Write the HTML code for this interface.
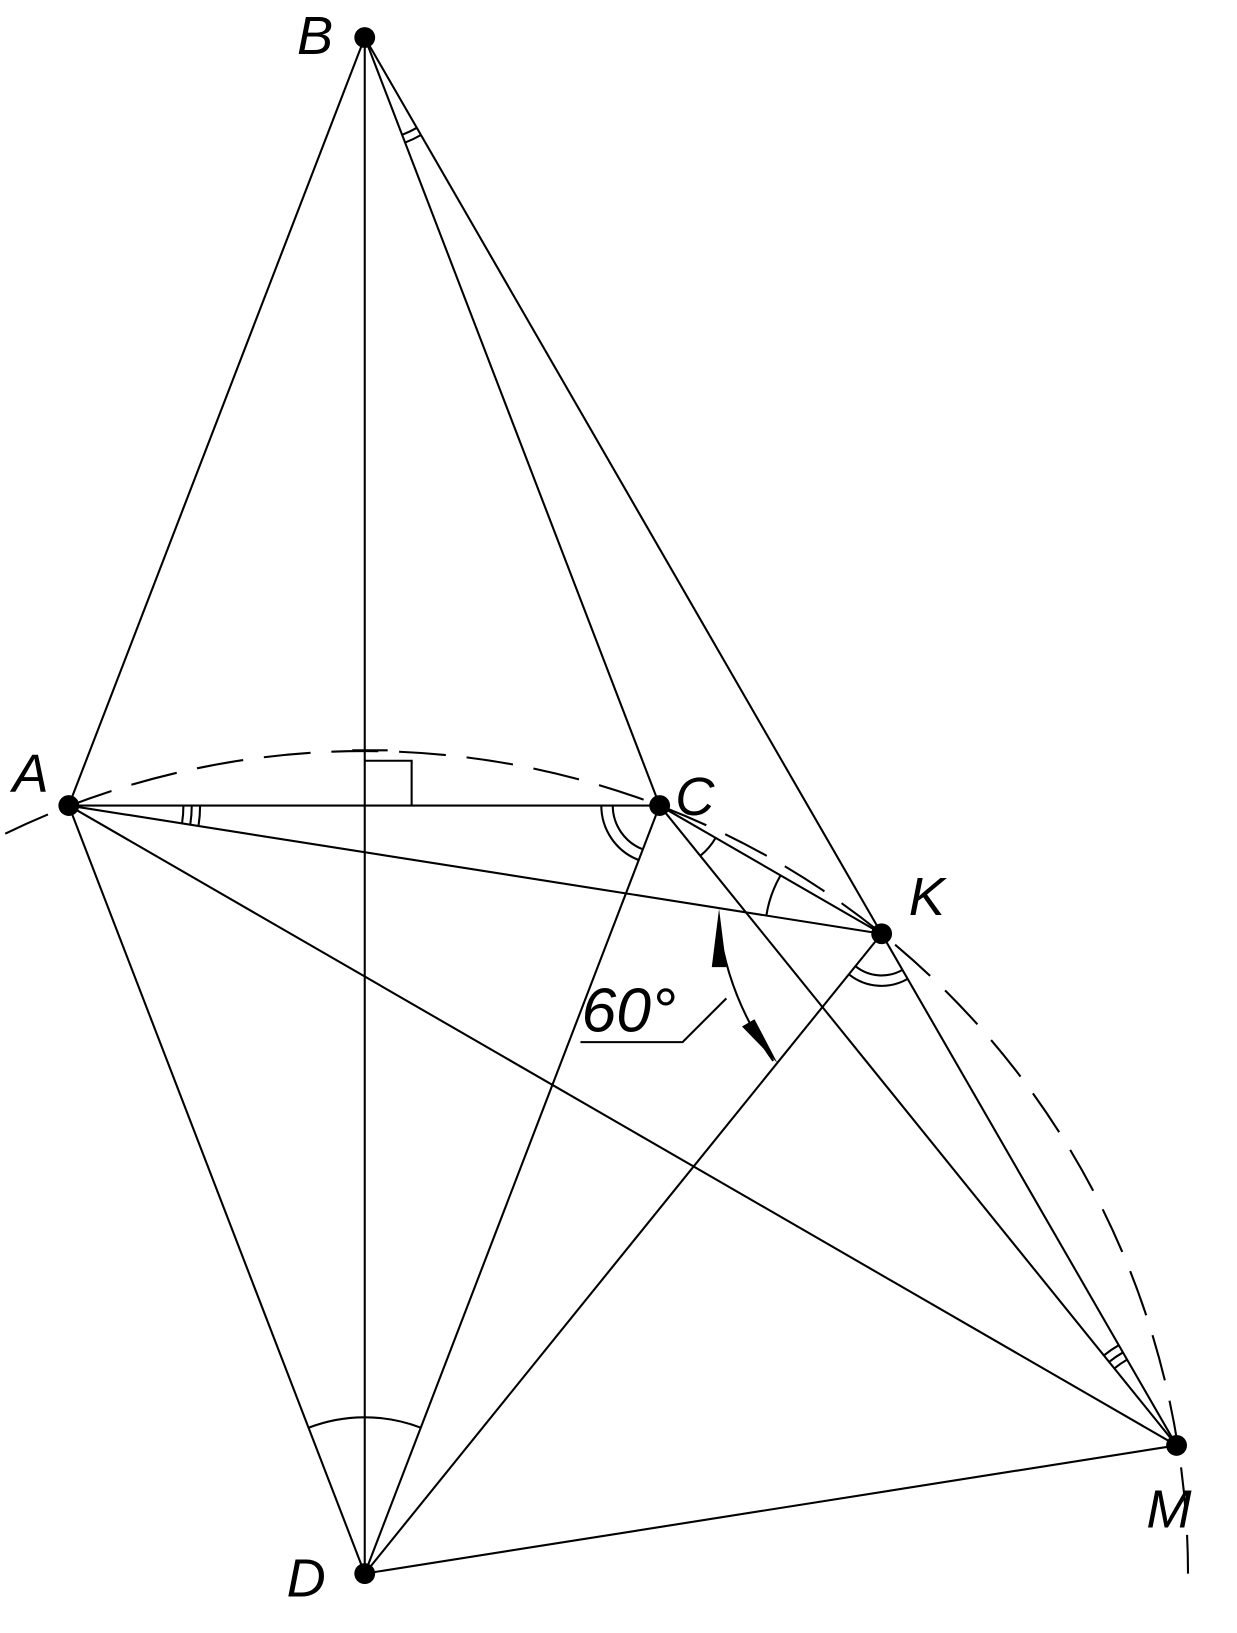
<!DOCTYPE html>
<html><head><meta charset="utf-8"><style>
html,body{margin:0;padding:0;background:#fff;width:1237px;height:1633px;overflow:hidden}
svg{display:block}
text{font-family:"Liberation Sans",sans-serif;font-style:italic;font-size:52px;fill:#000}
</style></head><body>
<svg id="s" width="1237" height="1633" viewBox="0 0 1187 1567" xmlns="http://www.w3.org/2000/svg">
<g stroke="#000" stroke-width="2" fill="none" id="g">
<path d="M5,800 A790,790 0 0 1 1140,1510" stroke-dasharray="45,20"/>
<polyline points="350,730 395,730 395,773"/>
<line x1="338" y1="720" x2="372" y2="720"/>
<polyline points="557,1000 655,1000 697,958"/>
<path d="M690,890 Q700,960 742,1018"/>
</g>
<polygon points="690,872 683,928 697,928" fill="#000"/>
<polygon points="746,1020 712,985 724,978" fill="#000"/>
<text x="285" y="52">B</text>
<text x="12" y="760">A</text>
<text x="648" y="782">C</text>
<text x="872" y="878">K</text>
<text x="275" y="1532">D</text>
<text x="1100" y="1466">M</text>
<text x="558" y="990" style="font-size:60px">60°</text>
</svg>
<script>
var P={B:[350,36],A:[66,773],C:[633,773],K:[846,896],D:[350,1510],M:[1129,1387]};
var g=document.getElementById('g'),s=document.getElementById('s');
function L(a,b){var l=document.createElementNS('http://www.w3.org/2000/svg','line');l.setAttribute('x1',P[a][0]);l.setAttribute('y1',P[a][1]);l.setAttribute('x2',P[b][0]);l.setAttribute('y2',P[b][1]);g.appendChild(l);}
['AB','BD','BC','BK','AC','AK','AM','AD','CD','CK','CM','KD','KM','DM'].forEach(function(e){L(e[0],e[1]);});
function ang(a,b){return Math.atan2(P[b][1]-P[a][1],P[b][0]-P[a][0]);}
function arc(v,p,q,r){var c=P[v],a1=ang(v,p),a2=ang(v,q);var d=a2-a1;while(d>Math.PI)d-=2*Math.PI;while(d<-Math.PI)d+=2*Math.PI;
var x1=c[0]+r*Math.cos(a1),y1=c[1]+r*Math.sin(a1),x2=c[0]+r*Math.cos(a1+d),y2=c[1]+r*Math.sin(a1+d);
var e=document.createElementNS('http://www.w3.org/2000/svg','path');e.setAttribute('d','M'+x1+','+y1+' A'+r+','+r+' 0 0 '+(d>0?1:0)+' '+x2+','+y2);g.appendChild(e);}
arc('A','C','K',110);arc('A','C','K',118);arc('A','C','K',126);
arc('B','C','K',100);arc('B','C','K',108);
arc('C','A','D',45);arc('C','A','D',56);
arc('C','K','M',62);
arc('K','C','A',112);
arc('K','D','M',40);arc('K','D','M',50);
arc('M','C','K',95);arc('M','C','K',103);arc('M','C','K',111);
arc('D','A','B',150);arc('D','B','C',150);
for(var k in P){var c=document.createElementNS('http://www.w3.org/2000/svg','circle');c.setAttribute('cx',P[k][0]);c.setAttribute('cy',P[k][1]);c.setAttribute('r',10);c.setAttribute('fill','#000');s.appendChild(c);}
</script>
</body></html>
